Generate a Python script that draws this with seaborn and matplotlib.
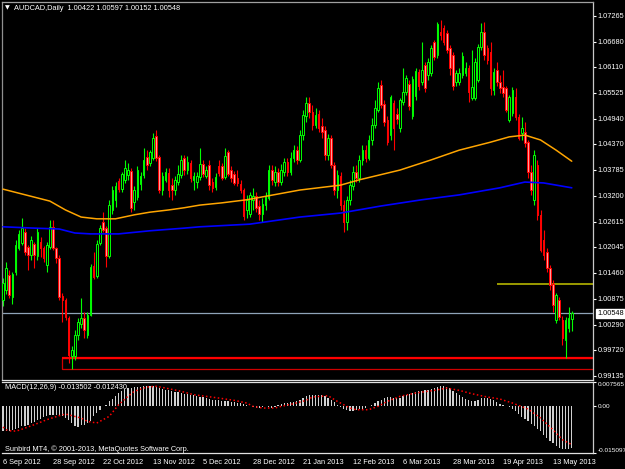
import numpy as np
import seaborn as sns
import matplotlib
matplotlib.use("Agg")
import matplotlib.pyplot as plt
from matplotlib.patches import Rectangle
from matplotlib.transforms import blended_transform_factory

sns.set_style("dark")
plt.rcParams['font.family'] = ['Liberation Sans', 'DejaVu Sans']

# AUDCAD daily candles, 6 Sep 2012 .. 21 May 2013
opens = [
    1.0085, 1.0107, 1.0141, 1.0092, 1.0148, 1.0202, 1.0214, 1.0238, 1.0204, 1.0186,
    1.0211, 1.0184, 1.0216, 1.0202, 1.0164, 1.0204, 1.0250, 1.0202, 1.0180, 1.0094,
    1.0085, 1.0044, 0.9958, 0.9958, 1.0006, 1.0031, 1.0044, 1.0006, 1.0051, 1.0162,
    1.0139, 1.0214, 1.0261, 1.0247, 1.0184, 1.0288, 1.0311, 1.0353, 1.0335, 1.0356,
    1.0367, 1.0376, 1.0306, 1.0317, 1.0347, 1.0367, 1.0408, 1.0394, 1.0405, 1.0455,
    1.0408, 1.0333, 1.0356, 1.0372, 1.0344, 1.0333, 1.0351, 1.0367, 1.0405, 1.0378,
    1.0394, 1.0356, 1.0351, 1.0362, 1.0392, 1.0365, 1.0390, 1.0351, 1.0340, 1.0387,
    1.0387, 1.0362, 1.0419, 1.0378, 1.0369, 1.0360, 1.0347, 1.0333, 1.0288, 1.0279,
    1.0311, 1.0320, 1.0297, 1.0279, 1.0299, 1.0315, 1.0378, 1.0351, 1.0374, 1.0351,
    1.0374, 1.0396, 1.0374, 1.0405, 1.0423, 1.0401, 1.0457, 1.0500, 1.0529, 1.0509,
    1.0480, 1.0505, 1.0478, 1.0469, 1.0412, 1.0451, 1.0390, 1.0333, 1.0365, 1.0299,
    1.0261, 1.0311, 1.0342, 1.0374, 1.0360, 1.0401, 1.0423, 1.0405, 1.0446, 1.0480,
    1.0514, 1.0570, 1.0527, 1.0491, 1.0457, 1.0529, 1.0505, 1.0473, 1.0532, 1.0554,
    1.0572, 1.0500, 1.0545, 1.0600, 1.0577, 1.0615, 1.0593, 1.0597, 1.0667, 1.0638,
    1.0690, 1.0699, 1.0688, 1.0654, 1.0638, 1.0577, 1.0577, 1.0593, 1.0597, 1.0609,
    1.0541, 1.0541, 1.0581, 1.0656, 1.0690, 1.0654, 1.0645, 1.0559, 1.0604, 1.0577,
    1.0566, 1.0563, 1.0491, 1.0507, 1.0543, 1.0498, 1.0462, 1.0464, 1.0442, 1.0374,
    1.0311, 1.0390, 1.0277, 1.0220, 1.0193, 1.0157, 1.0121, 1.0040, 1.0085, 1.0040,
    0.9995, 1.0022, 1.00422]
highs = [
    1.0135, 1.0171, 1.0153, 1.0148, 1.0220, 1.0243, 1.0270, 1.0247, 1.0209, 1.0229,
    1.0216, 1.0247, 1.0227, 1.0207, 1.0216, 1.0265, 1.0265, 1.0204, 1.0186, 1.0101,
    1.0089, 1.0049, 0.9981, 1.0017, 1.0044, 1.0089, 1.0058, 1.0058, 1.0166, 1.0193,
    1.0220, 1.0254, 1.0284, 1.0252, 1.0311, 1.0342, 1.0351, 1.0360, 1.0374, 1.0401,
    1.0394, 1.0383, 1.0342, 1.0387, 1.0374, 1.0428, 1.0423, 1.0423, 1.0462, 1.0469,
    1.0412, 1.0374, 1.0383, 1.0383, 1.0360, 1.0365, 1.0390, 1.0412, 1.0412, 1.0410,
    1.0401, 1.0374, 1.0374, 1.0428, 1.0401, 1.0387, 1.0401, 1.0360, 1.0372, 1.0401,
    1.0394, 1.0428, 1.0423, 1.0387, 1.0376, 1.0378, 1.0356, 1.0338, 1.0322, 1.0329,
    1.0338, 1.0329, 1.0311, 1.0315, 1.0329, 1.0390, 1.0390, 1.0387, 1.0383, 1.0392,
    1.0405, 1.0405, 1.0419, 1.0435, 1.0432, 1.0469, 1.0514, 1.0543, 1.0543, 1.0525,
    1.0518, 1.0514, 1.0496, 1.0478, 1.0460, 1.0457, 1.0396, 1.0378, 1.0374, 1.0311,
    1.0320, 1.0356, 1.0387, 1.0390, 1.0412, 1.0435, 1.0435, 1.0457, 1.0496, 1.0536,
    1.0577, 1.0581, 1.0536, 1.0500, 1.0548, 1.0536, 1.0518, 1.0541, 1.0609, 1.0593,
    1.0581, 1.0590, 1.0609, 1.0606, 1.0667, 1.0622, 1.0631, 1.0660, 1.0672, 1.0712,
    1.0717, 1.0706, 1.0694, 1.0660, 1.0645, 1.0604, 1.0609, 1.0645, 1.0622, 1.0615,
    1.0649, 1.0631, 1.0663, 1.0710, 1.0712, 1.0660, 1.0667, 1.0609, 1.0622, 1.0593,
    1.0604, 1.0568, 1.0548, 1.0566, 1.0563, 1.0505, 1.0498, 1.0487, 1.0446, 1.0390,
    1.0423, 1.0401, 1.0288, 1.0243, 1.0202, 1.0164, 1.0130, 1.0101, 1.0092, 1.0049,
    1.0047, 1.0069, 1.00597]
lows = [
    1.0071, 1.0098, 1.0089, 1.0076, 1.0141, 1.0198, 1.0209, 1.0186, 1.0153, 1.0175,
    1.0157, 1.0175, 1.0182, 1.0171, 1.0148, 1.0200, 1.0198, 1.0168, 1.0085, 1.0035,
    1.0040, 0.9943, 0.9929, 0.9949, 0.9995, 1.0022, 0.9999, 0.9999, 1.0049, 1.0132,
    1.0135, 1.0209, 1.0238, 1.0159, 1.0180, 1.0279, 1.0295, 1.0329, 1.0329, 1.0349,
    1.0356, 1.0284, 1.0288, 1.0311, 1.0333, 1.0360, 1.0378, 1.0387, 1.0401, 1.0399,
    1.0326, 1.0322, 1.0351, 1.0317, 1.0311, 1.0322, 1.0344, 1.0360, 1.0367, 1.0369,
    1.0351, 1.0333, 1.0338, 1.0356, 1.0362, 1.0360, 1.0333, 1.0329, 1.0333, 1.0365,
    1.0356, 1.0358, 1.0365, 1.0351, 1.0344, 1.0342, 1.0326, 1.0265, 1.0270, 1.0272,
    1.0288, 1.0284, 1.0265, 1.0261, 1.0288, 1.0311, 1.0344, 1.0342, 1.0342, 1.0344,
    1.0365, 1.0365, 1.0367, 1.0396, 1.0392, 1.0396, 1.0446, 1.0487, 1.0496, 1.0469,
    1.0473, 1.0464, 1.0451, 1.0401, 1.0401, 1.0383, 1.0322, 1.0315, 1.0288, 1.0238,
    1.0243, 1.0299, 1.0333, 1.0351, 1.0351, 1.0390, 1.0396, 1.0401, 1.0435, 1.0473,
    1.0509, 1.0518, 1.0478, 1.0435, 1.0446, 1.0423, 1.0482, 1.0464, 1.0525, 1.0548,
    1.0514, 1.0493, 1.0536, 1.0559, 1.0570, 1.0554, 1.0581, 1.0590, 1.0627, 1.0631,
    1.0672, 1.0660, 1.0642, 1.0593, 1.0559, 1.0568, 1.0570, 1.0586, 1.0590, 1.0532,
    1.0536, 1.0536, 1.0577, 1.0649, 1.0627, 1.0618, 1.0548, 1.0548, 1.0568, 1.0552,
    1.0543, 1.0509, 1.0487, 1.0500, 1.0491, 1.0446, 1.0446, 1.0430, 1.0360, 1.0322,
    1.0299, 1.0265, 1.0193, 1.0175, 1.0148, 1.0107, 1.0058, 1.0033, 1.0040, 0.9983,
    0.9954, 1.0013, 1.00152]
closes = [
    1.0123, 1.0157, 1.0096, 1.0144, 1.0209, 1.0234, 1.0247, 1.0193, 1.0186, 1.0220,
    1.0186, 1.0238, 1.0202, 1.0180, 1.0209, 1.0250, 1.0202, 1.0180, 1.0092, 1.0085,
    1.0047, 0.9961, 0.9972, 1.0006, 1.0035, 1.0044, 1.0017, 1.0051, 1.0159, 1.0137,
    1.0211, 1.0247, 1.0243, 1.0184, 1.0299, 1.0333, 1.0342, 1.0335, 1.0369, 1.0383,
    1.0378, 1.0293, 1.0333, 1.0378, 1.0365, 1.0401, 1.0390, 1.0419, 1.0451, 1.0405,
    1.0333, 1.0365, 1.0374, 1.0333, 1.0333, 1.0356, 1.0369, 1.0401, 1.0378, 1.0396,
    1.0360, 1.0365, 1.0365, 1.0392, 1.0369, 1.0378, 1.0344, 1.0338, 1.0362, 1.0372,
    1.0360, 1.0410, 1.0369, 1.0360, 1.0349, 1.0349, 1.0333, 1.0274, 1.0311, 1.0322,
    1.0320, 1.0293, 1.0279, 1.0302, 1.0320, 1.0378, 1.0356, 1.0374, 1.0351, 1.0378,
    1.0396, 1.0374, 1.0405, 1.0423, 1.0401, 1.0457, 1.0502, 1.0529, 1.0509, 1.0480,
    1.0502, 1.0473, 1.0464, 1.0412, 1.0451, 1.0390, 1.0333, 1.0367, 1.0299, 1.0261,
    1.0311, 1.0344, 1.0374, 1.0360, 1.0401, 1.0423, 1.0405, 1.0446, 1.0480, 1.0518,
    1.0563, 1.0525, 1.0487, 1.0442, 1.0543, 1.0473, 1.0493, 1.0536, 1.0554, 1.0586,
    1.0523, 1.0584, 1.0602, 1.0568, 1.0604, 1.0563, 1.0622, 1.0654, 1.0633, 1.0708,
    1.0683, 1.0667, 1.0649, 1.0609, 1.0568, 1.0597, 1.0597, 1.0636, 1.0609, 1.0554,
    1.0566, 1.0622, 1.0656, 1.0690, 1.0638, 1.0627, 1.0563, 1.0600, 1.0577, 1.0563,
    1.0552, 1.0514, 1.0543, 1.0559, 1.0498, 1.0451, 1.0473, 1.0439, 1.0374, 1.0333,
    1.0412, 1.0277, 1.0198, 1.0186, 1.0157, 1.0119, 1.0074, 1.0096, 1.0047, 1.0000,
    1.0040, 1.0044, 1.00548]

# moving averages (orange / blue), read at a few bars
ma_orange_bar = [0, 5, 10, 15, 20, 25, 30, 36, 42, 47, 53, 58, 63, 70, 78, 95, 108,
                 114, 127, 137, 146, 156, 162, 167, 172, 177, 182]
ma_orange = [1.0335, 1.0326, 1.0317, 1.0308, 1.0288, 1.0272, 1.0268, 1.0268, 1.0277,
             1.0283, 1.0288, 1.0293, 1.0299, 1.0304, 1.0311, 1.0333, 1.0344, 1.0356,
             1.0378, 1.0401, 1.0423, 1.0441, 1.0453, 1.0457, 1.0446, 1.0423, 1.0398]
ma_blue_bar = [0, 10, 18, 23, 28, 37, 47, 58, 63, 79, 95, 108, 121, 134, 146, 159,
               167, 173, 182]
ma_blue = [1.0250, 1.0247, 1.0245, 1.0236, 1.0234, 1.0234, 1.0241, 1.0247, 1.0250,
           1.0256, 1.0272, 1.0281, 1.0297, 1.0311, 1.0322, 1.0338, 1.0351, 1.0349,
           1.0338]

# MACD(12,26,9) histogram, one value per bar
macd_hist = [
    -0.00819, -0.00819, -0.00798, -0.00777, -0.00745, -0.00713, -0.00660, -0.00638, -0.00606, -0.00564,
    -0.00511, -0.00468, -0.00415, -0.00362, -0.00330, -0.00309, -0.00287, -0.00287, -0.00287, -0.00330,
    -0.00394, -0.00447, -0.00553, -0.00638, -0.00681, -0.00628, -0.00606, -0.00564, -0.00479, -0.00340,
    -0.00234, -0.00128, -0.00021, 0.00021, 0.00138, 0.00223, 0.00298, 0.00404, 0.00479, 0.00532,
    0.00564, 0.00564, 0.00585, 0.00596, 0.00606, 0.00617, 0.00617, 0.00628, 0.00628, 0.00606,
    0.00575, 0.00532, 0.00511, 0.00489, 0.00458, 0.00426, 0.00426, 0.00404, 0.00383, 0.00383,
    0.00351, 0.00330, 0.00309, 0.00287, 0.00266, 0.00245, 0.00213, 0.00192, 0.00192, 0.00170,
    0.00160, 0.00138, 0.00138, 0.00117, 0.00106, 0.00085, 0.00074, 0.00043, 0.00032, 0.00005,
    -0.00053, -0.00074, -0.00064, -0.00043, -0.00021, -0.00043, -0.00074, -0.00043, 0.00021, 0.00064,
    0.00085, 0.00085, 0.00106, 0.00117, 0.00138, 0.00181, 0.00234, 0.00298, 0.00340, 0.00351,
    0.00351, 0.00351, 0.00351, 0.00319, 0.00245, 0.00181, 0.00106, 0.00021, -0.00053, -0.00117,
    -0.00138, -0.00170, -0.00170, -0.00138, -0.00117, -0.00096, -0.00064, -0.00021, 0.00032, 0.00085,
    0.00138, 0.00192, 0.00234, 0.00287, 0.00287, 0.00255, 0.00245, 0.00255, 0.00298, 0.00351,
    0.00383, 0.00404, 0.00426, 0.00458, 0.00458, 0.00489, 0.00511, 0.00532, 0.00564, 0.00596,
    0.00617, 0.00617, 0.00606, 0.00553, 0.00479, 0.00404, 0.00340, 0.00277, 0.00223, 0.00181,
    0.00149, 0.00138, 0.00192, 0.00245, 0.00245, 0.00245, 0.00213, 0.00170, 0.00106, 0.00064,
    0.00011, -0.00011, -0.00043, -0.00096, -0.00181, -0.00277, -0.00351, -0.00426, -0.00500, -0.00575,
    -0.00638, -0.00734, -0.00819, -0.00926, -0.01021, -0.01128, -0.01202, -0.01287, -0.01341, -0.01373,
    -0.01383, -0.01383, -0.013502]
signal_bar = [0, 1, 3, 5, 10, 14, 18, 20, 25, 27, 30, 34, 37, 40, 42, 46, 49, 52, 57,
              61, 65, 69, 74, 78, 80, 83, 87, 89, 93, 97, 99, 104, 107, 111, 113, 117,
              120, 123, 127, 132, 138, 142, 146, 150, 155, 159, 163, 168, 172, 176,
              179, 182]
signal = [-0.00681, -0.00766, -0.00819, -0.00787, -0.00606, -0.00447, -0.00319, -0.00266,
          -0.00394, -0.00500, -0.00553, -0.00340, 0.00032, 0.00298, 0.00458, 0.00596,
          0.00617, 0.00564, 0.00458, 0.00351, 0.00298, 0.00245, 0.00170, 0.00085,
          -0.00021, -0.00074, -0.00074, -0.00021, 0.00064, 0.00170, 0.00277, 0.00319,
          0.00138, -0.00074, -0.00128, -0.00128, -0.00021, 0.00138, 0.00298, 0.00404,
          0.00489, 0.00564, 0.00489, 0.00383, 0.00277, 0.00213, 0.00085, -0.00106,
          -0.00394, -0.00766, -0.01085, -0.01243]

# drawn objects
yellow_level, yellow_start = 1.0122, 158
box_start, box_top, box_bottom = 19, 0.9954, 0.9929

price_ticks = [1.07265, 1.06680, 1.06110, 1.05525, 1.04940, 1.04370, 1.03785, 1.03200,
               1.02615, 1.02045, 1.01460, 1.00875, 1.00290, 0.99720, 0.99135]
date_ticks = [0, 16, 32, 48, 64, 80, 96, 112, 128, 144, 160, 176]
date_labels = ['6 Sep 2012', '28 Sep 2012', '22 Oct 2012', '13 Nov 2012', '5 Dec 2012',
               '28 Dec 2012', '21 Jan 2013', '12 Feb 2013', '6 Mar 2013', '28 Mar 2013',
               '19 Apr 2013', '13 May 2013']

W, H = 625, 469
fs = 5.3


def px_box(x0, y0, x1, y1):
    return [x0 / W, 1 - y1 / H, (x1 - x0) / W, (y1 - y0) / H]


fig = plt.figure(figsize=(W / 100, H / 100), dpi=100, facecolor='black')
ax = fig.add_axes(px_box(2, 2, 593, 380))
mx = fig.add_axes(px_box(2, 382, 593, 453))
xmin, xmax = -0.32, 188.8
for a in (ax, mx):
    a.set_facecolor('black')
    a.set_xlim(xmin, xmax)
    a.grid(False)

# candles
x = np.arange(len(closes))
o, h, l, c = (np.array(v) for v in (opens, highs, lows, closes))
up = c >= o
ax.vlines(x[up], l[up], h[up], color='#00ff00', lw=0.8, zorder=2)
ax.vlines(x[~up], l[~up], h[~up], color='#ff0000', lw=0.8, zorder=2)
ax.bar(x[up], np.maximum(c - o, 2e-5)[up], bottom=o[up], width=0.55, color='black',
       edgecolor='#00ff00', linewidth=0.7, zorder=3)
ax.bar(x[~up], (o - c)[~up], bottom=c[~up], width=0.55, color='#ff9c9c',
       edgecolor='#ff0000', linewidth=0.7, zorder=3)

sns.lineplot(x=ma_orange_bar, y=ma_orange, ax=ax, color='#ffa500', lw=1.1, zorder=4)
sns.lineplot(x=ma_blue_bar, y=ma_blue, ax=ax, color='#0000ff', lw=1.2, zorder=4)

ax.axhline(closes[-1], color='#8fa3b8', lw=0.9, zorder=1)
ax.hlines(yellow_level, yellow_start, xmax, color='#b5b500', lw=1.2, zorder=1)
ax.add_patch(Rectangle((box_start, box_bottom), xmax + 20 - box_start, box_top - box_bottom,
                       fill=False, edgecolor='#d00000', lw=0.9, zorder=1))
ax.hlines(box_top, box_start, xmax, color='#ff0000', lw=1.6, zorder=1)

ax.set_ylim(0.99042, 1.07574)
ax.yaxis.tick_right()
ax.set_yticks(price_ticks)
ax.set_yticklabels([f'{p:.5f}' for p in price_ticks])
ax.tick_params(axis='y', colors='white', labelsize=fs, length=2.5, width=0.8, pad=0.8)
ax.tick_params(axis='x', bottom=False, labelbottom=False)
tr = blended_transform_factory(ax.transAxes, ax.transData)
ax.text(1 + 4 / 591, closes[-1], f'{closes[-1]:.5f}', transform=tr, ha='left', va='center',
        fontsize=fs, color='black',
        bbox=dict(boxstyle='square,pad=0.12', facecolor='white', edgecolor='white'))

# MACD panel
mx.bar(x, macd_hist, width=0.4, color='#d0d0d0', linewidth=0)
sns.lineplot(x=signal_bar, y=signal, ax=mx, color='#ff0000', lw=1.1,
             linestyle=(0, (1, 1.6)))
mx.set_ylim(-0.015097, 0.007565)
mx.yaxis.tick_right()
mx.set_yticks([0.007565, 0.0, -0.015097])
mx.set_yticklabels(['0.007565', '0.00', '-0.015097'])
mx.tick_params(axis='y', colors='white', labelsize=4.6, length=2.5, width=0.8, pad=0.8)
labs = mx.get_yticklabels()
labs[0].set_va('top')
labs[2].set_va('bottom')
mx.set_xticks(date_ticks)
mx.set_xticklabels(date_labels, ha='left')
mx.tick_params(axis='x', colors='white', labelsize=fs, length=3, width=0.8, pad=1.5)
mx.set_xlabel('')
mx.set_ylabel('')
ax.set_xlabel('')
ax.set_ylabel('')

for name, sp in ax.spines.items():
    sp.set_visible(True)
    sp.set_linewidth(0.9)
    sp.set_color({'left': '#909090', 'top': '#a0a0a0', 'right': '#c8c8c8',
                  'bottom': '#e0e0e0'}[name])
for name, sp in mx.spines.items():
    sp.set_visible(name != 'left')
    sp.set_linewidth(0.9)
    sp.set_color('#e0e0e0' if name != 'right' else '#c8c8c8')

fig.text(5 / W, 1 - 8 / H, '\u25bc', fontsize=4.5, color='white', va='center',
         family=['DejaVu Sans'])
fig.text(14 / W, 1 - 8 / H,
         f'AUDCAD,Daily  {opens[-1]:.5f} {highs[-1]:.5f} {lows[-1]:.5f} {closes[-1]:.5f}',
         fontsize=fs, color='white', va='center')
fig.text(5 / W, 1 - 387 / H, f'MACD(12,26,9) {macd_hist[-1]:.6f} {signal[-1]:.6f}',
         fontsize=fs, color='white', va='center')
fig.text(5 / W, 1 - 449 / H, 'Sunbird MT4, \u00a9 2001-2013, MetaQuotes Software Corp.',
         fontsize=fs, color='white', va='center')

fig.savefig('out.png', dpi=100, facecolor='black')
